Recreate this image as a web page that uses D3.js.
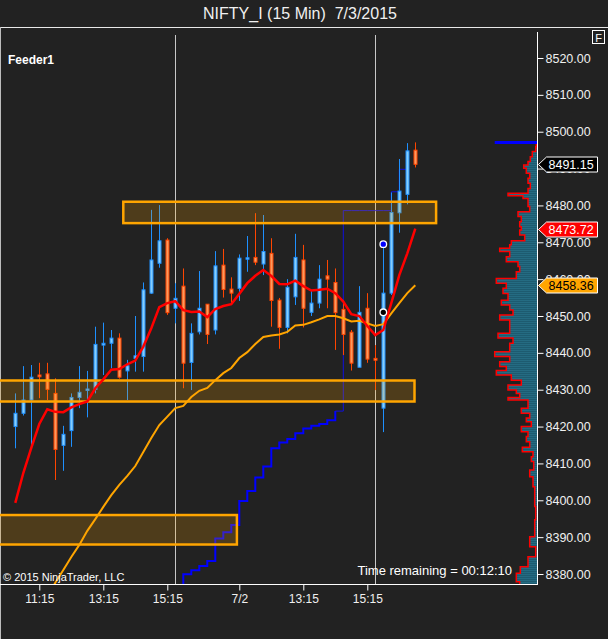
<!DOCTYPE html>
<html>
<head>
<meta charset="utf-8">
<script src="https://cdn.jsdelivr.net/npm/d3@7/dist/d3.min.js"></script>
<style>
  body { margin: 0; background: #222; }
  text { font-family: "Liberation Sans", Arial, sans-serif; }
</style>
</head>
<body>
<script>

  const width = 608, height = 639
  const plot = {left: 0, right: 537, top: 28, bottom: 584}
  const colors = {bg: '#222222',
                  upFill: '#87cefa', upLine: '#1e90ff',
                  downFill: '#fa9a5e', downLine: '#ff4500',
                  fast: '#ff0000', slow: '#ffa500',
                  stop: '#0000ff', zone: '#ffa500',
                  profile: '#1d5b70', grid: '#c8c8c8', text: '#f0f0f0'}

  // 15 min bars, 7/1 10:30 .. 7/3 10:30
  const barOpen  = [8420.0, 8423.6, 8427.2, 8434.0, 8434.3, 8429.0, 8414.9, 8418.9, 8427.9, 8429.8,
                    8430.1, 8442.1, 8442.6, 8444.0, 8435.1, 8438.5, 8439.0, 8456.2, 8464.3, 8470.6,
                    8452.1, 8458.1, 8437.4, 8445.7, 8453.2, 8446.2, 8463.8, 8457.3, 8457.5, 8465.4,
                    8465.9, 8464.1, 8467.0, 8454.3, 8446.9, 8455.2, 8465.2, 8451.0, 8453.5, 8460.9,
                    8459.1, 8451.8, 8445.6, 8436.1, 8452.1, 8438.5, 8425.0, 8456.2, 8478.0, 8483.0,
                    8495.0]
  const barHigh  = [8429.0, 8436.4, 8436.7, 8437.3, 8437.3, 8433.1, 8420.2, 8429.0, 8436.4, 8435.1,
                    8447.1, 8448.2, 8446.2, 8445.3, 8438.1, 8450.0, 8459.1, 8478.8, 8480.1, 8471.1,
                    8458.9, 8462.9, 8448.0, 8462.2, 8453.2, 8467.6, 8468.2, 8460.5, 8466.7, 8471.7,
                    8477.9, 8477.4, 8471.1, 8454.9, 8460.0, 8472.3, 8469.3, 8457.1, 8463.8, 8465.2,
                    8462.9, 8454.3, 8446.2, 8458.1, 8456.2, 8442.1, 8469.5, 8483.5, 8492.6, 8496.9,
                    8497.1]
  const barLow   = [8414.1, 8423.0, 8414.2, 8427.7, 8427.2, 8405.5, 8408.0, 8414.5, 8425.0, 8422.5,
                    8429.0, 8434.0, 8435.8, 8433.0, 8427.2, 8434.9, 8434.9, 8456.0, 8463.1, 8450.3,
                    8448.0, 8430.4, 8429.9, 8445.0, 8442.4, 8445.0, 8455.0, 8453.5, 8454.1, 8462.0,
                    8463.8, 8461.1, 8447.1, 8441.1, 8445.3, 8453.0, 8446.9, 8450.0, 8452.1, 8452.1,
                    8440.8, 8439.4, 8435.2, 8436.1, 8437.3, 8429.9, 8418.5, 8455.7, 8472.6, 8480.3,
                    8490.3]
  const barClose = [8423.6, 8427.2, 8433.4, 8433.5, 8430.1, 8413.8, 8417.9, 8427.9, 8429.3, 8430.2,
                    8442.3, 8442.6, 8444.0, 8433.4, 8436.5, 8439.2, 8457.1, 8465.2, 8470.4, 8450.9,
                    8454.8, 8437.2, 8445.3, 8452.1, 8445.0, 8463.6, 8457.2, 8456.2, 8465.7, 8465.8,
                    8464.6, 8467.5, 8454.2, 8446.9, 8457.8, 8465.9, 8452.1, 8453.5, 8460.0, 8460.0,
                    8450.9, 8445.0, 8437.2, 8451.0, 8438.3, 8438.0, 8456.2, 8478.1, 8483.9, 8494.8,
                    8491.15]

  // red (fast) and orange (slow) averages
  const fastMA = [8399.3, 8407.4, 8414.2, 8420.7, 8424.7, 8424.0, 8423.9, 8425.2, 8426.1, 8426.8,
                  8430.4, 8432.8, 8435.4, 8435.6, 8436.9, 8437.9, 8441.7, 8446.7, 8452.4, 8453.5,
                  8454.0, 8451.6, 8451.1, 8451.2, 8449.7, 8451.9, 8452.7, 8453.2, 8456.0, 8458.9,
                  8460.9, 8462.5, 8460.9, 8458.7, 8458.6, 8459.6, 8458.1, 8456.9, 8457.1, 8457.4,
                  8456.2, 8453.9, 8450.5, 8450.0, 8447.3, 8444.8, 8446.2, 8453.5, 8461.1, 8467.0,
                  8473.72]
  const slowMA = [null, null, null, null, 8374.0, 8377.6, 8381.1, 8384.6, 8387.9, 8391.7,
                  8394.9, 8398.2, 8401.4, 8404.2, 8406.6, 8409.3, 8413.1, 8416.9, 8420.4, 8422.7,
                  8425.0, 8425.6, 8428.0, 8429.7, 8430.5, 8432.6, 8434.5, 8435.9, 8438.6, 8440.2,
                  8442.4, 8444.3, 8444.7, 8445.0, 8445.7, 8447.4, 8447.6, 8448.3, 8449.1, 8450.0,
                  8450.0, 8449.4, 8448.5, 8448.7, 8448.0, 8447.3, 8447.8, 8450.7, 8453.5, 8456.2,
                  8458.36]
  // blue stepped stop level
  const stopLevel = [null, null, null, null, null, null, null, null, null, null,
                     null, null, null, null, null, null, null, null, null, null,
                     8375.1, 8379.9, 8381.0, 8382.2, 8383.5, 8389.6, 8391.3, 8393.3, 8399.8, 8402.5,
                     8406.2, 8409.2, 8414.1, 8415.7, 8416.6, 8418.2, 8419.5, 8420.2, 8420.7, 8421.7,
                     8424.2, 8478.6, 8478.6, 8478.6, 8478.6, 8478.6, 8478.6, 8483.7, 8489.8, 8489.8,
                     null]
  const stopFlipBar = 40

  const markerBar = [46, 46]
  const markerPrice = [8469.5, 8451.0]
  const markerFill = ['#0000ff', '#000000']

  const zoneFrom = [13.5, -3, -3]
  const zoneTo = [52.6, 49.9, 27.7]
  const zoneHigh = [8481.0, 8432.5, 8396.0]
  const zoneLow = [8475.2, 8426.8, 8388.0]

  const sessionEnds = [20, 45]
  const timeTickBars = [3, 11, 19, 28, 36, 44]
  const timeTickLabels = ['11:15', '13:15', '15:15', '7/2', '13:15', '15:15']
  const priceTicks = [8380, 8390, 8400, 8410, 8420, 8430, 8440, 8450, 8460, 8470, 8480, 8490, 8500, 8510, 8520]

  // volume profile (price level, relative volume)
  const profilePrice = [8497.1, 8495.9, 8494.6, 8493.2, 8491.9, 8491.0, 8490.1, 8488.7, 8487.4, 8486.0,
                        8484.6, 8483.3, 8482.6, 8481.9, 8480.6, 8479.7, 8478.3, 8477.0, 8475.6, 8474.2,
                        8473.3, 8472.0, 8470.4, 8469.3, 8468.4, 8467.5, 8466.1, 8464.7, 8463.4, 8462.0,
                        8460.2, 8458.9, 8457.5, 8456.1, 8454.3, 8453.0, 8451.6, 8450.3, 8448.9, 8447.5,
                        8445.3, 8444.0, 8442.6, 8440.3, 8439.0, 8437.6, 8436.3, 8435.2, 8434.0, 8432.6,
                        8431.3, 8429.9, 8429.0, 8427.9, 8427.2, 8425.9, 8425.0, 8423.6, 8422.3, 8421.3,
                        8420.0, 8418.6, 8417.3, 8415.9, 8414.4, 8413.2, 8411.8, 8410.5, 8408.2, 8406.4,
                        8403.7, 8401.0, 8398.3, 8394.7, 8390.1, 8387.4, 8384.7, 8382.0, 8380.2, 8377.9,
                        8376.0]
  const profileVol = [0.7, 1.3, 4.7, 6.7, 9, 13.3, 10.7, 7.3, 9, 6.7,
                      9, 29, 14, 9, 9, 7.3, 19, 15.7, 17.3, 15.7,
                      17.3, 12.3, 25.7, 27.3, 37.3, 27.3, 30.7, 19, 17.3, 20.7,
                      40.7, 30.7, 34, 29, 35.7, 27.3, 24, 37.3, 27.3, 27.3,
                      39, 24, 27.3, 42.3, 27.3, 37.3, 30.7, 40.7, 25.7, 15.7,
                      29, 20.7, 17.3, 29, 9, 9, 15.7, 7.3, 10.7, 5.7,
                      15.7, 9, 10.7, 7.3, 14.7, 4, 5.7, 3.3, 7.3, 4,
                      2.3, 2.3, 1.3, 2.3, 7.3, 1.3, 9, 16.7, 20.7, 17.3,
                      17.3]

  const lastPrice = barClose[barClose.length - 1]

  const x = d3.scaleLinear().domain([0, 50]).range([15.3, 415.3])
  const y = d3.scaleLinear().domain([8380, 8520]).range([574, 58])
  const vx = d3.scaleLinear().domain([0, d3.max(profileVol)]).range([0, 42.3])
  const snap = v => Math.round(v) + 0.5

  const svg = d3.select('body').append('svg')
      .attr('width', width)
      .attr('height', height)

  svg.append('rect').attr('width', width).attr('height', height).attr('fill', colors.bg)

  const defs = svg.append('defs')
  defs.append('clipPath').attr('id', 'plotClip')
    .append('rect')
      .attr('x', plot.left).attr('y', plot.top)
      .attr('width', plot.right - plot.left).attr('height', plot.bottom - plot.top)
  const pat = defs.append('pattern')
      .attr('id', 'stripes').attr('patternUnits', 'userSpaceOnUse')
      .attr('width', 4).attr('height', 2)
  pat.append('rect').attr('width', 4).attr('height', 2).attr('fill', colors.profile)
  pat.append('rect').attr('width', 4).attr('height', 1).attr('fill', '#246b82')

  // title
  svg.append('text')
      .attr('x', 300).attr('y', 19)
      .attr('text-anchor', 'middle')
      .style('font-size', '16px')
      .attr('fill', colors.text)
      .text('NIFTY_I (15 Min)\u00a0\u00a07/3/2015')
  svg.append('line').attr('x1', 0).attr('x2', width).attr('y1', 27.5).attr('y2', 27.5)
      .attr('stroke', '#e8e8e8')
  svg.append('line').attr('x1', 0.5).attr('x2', 0.5).attr('y1', 27).attr('y2', height)
      .attr('stroke', '#bdbdbd')

  const g = svg.append('g').attr('clip-path', 'url(#plotClip)')

  // volume profile
  const prof = profilePrice.map((p, i) => ({p, v: profileVol[i]}))
  const area = d3.area()
      .y(d => y(d.p))
      .x0(plot.right)
      .x1(d => plot.right - vx(d.v))
      .curve(d3.curveStepBefore)
  g.append('path').datum(prof).attr('d', area).attr('fill', 'url(#stripes)')
  g.append('path').datum(prof)
      .attr('d', d3.line().y(d => y(d.p)).x(d => plot.right - vx(d.v)).curve(d3.curveStepBefore))
      .attr('fill', 'none').attr('stroke', colors.fast).attr('stroke-width', 1.5)
  g.append('line')
      .attr('x1', plot.right - vx(d3.max(profileVol))).attr('x2', plot.right)
      .attr('y1', y(profilePrice[0])).attr('y2', y(profilePrice[0]))
      .attr('stroke', colors.stop).attr('stroke-width', 3)

  // session breaks
  g.selectAll('.session')
    .data(sessionEnds)
    .enter().append('line')
      .attr('class', 'session')
      .attr('x1', d => snap(x(d))).attr('x2', d => snap(x(d)))
      .attr('y1', 35).attr('y2', plot.bottom)
      .attr('stroke', colors.grid).attr('stroke-width', 1)

  // stop level: thick before the flip, thin after it
  const stopPts = stopLevel.map((v, i) => ({i, v}))
  const stopLine = d3.line().defined(d => d.v !== null).x(d => x(d.i)).y(d => y(d.v)).curve(d3.curveStepAfter)
  g.append('path').datum(stopPts.filter(d => d.i <= stopFlipBar))
      .attr('d', stopLine)
      .attr('fill', 'none').attr('stroke', colors.stop).attr('stroke-width', 2)
  g.append('path').datum(stopPts.filter(d => d.i >= stopFlipBar))
      .attr('d', stopLine)
      .attr('fill', 'none').attr('stroke', '#1010e0').attr('stroke-width', 1)

  // candles
  const bars = barOpen.map((o, i) => ({i, o, h: barHigh[i], l: barLow[i], c: barClose[i]}))
  const candle = g.selectAll('.candle')
    .data(bars)
    .enter().append('g')
      .attr('class', 'candle')
  candle.append('line')
      .attr('x1', d => snap(x(d.i))).attr('x2', d => snap(x(d.i)))
      .attr('y1', d => y(d.h)).attr('y2', d => y(d.l))
      .attr('stroke', d => d.c >= d.o ? colors.upLine : colors.downLine)
  candle.append('rect')
      .attr('x', d => snap(x(d.i)) - 1.5)
      .attr('width', 3)
      .attr('y', d => y(Math.max(d.o, d.c)))
      .attr('height', d => Math.max(1, y(Math.min(d.o, d.c)) - y(Math.max(d.o, d.c))))
      .attr('fill', d => d.c >= d.o ? colors.upFill : colors.downFill)
      .attr('stroke', d => d.c >= d.o ? colors.upLine : colors.downLine)
      .attr('stroke-width', 1)

  // zones
  g.selectAll('.zone')
    .data(zoneFrom.map((f, i) => ({f, t: zoneTo[i], hi: zoneHigh[i], lo: zoneLow[i]})))
    .enter().append('rect')
      .attr('class', 'zone')
      .attr('x', d => x(d.f)).attr('width', d => x(d.t) - x(d.f))
      .attr('y', d => y(d.hi)).attr('height', d => y(d.lo) - y(d.hi))
      .attr('fill', colors.zone).attr('fill-opacity', 0.2)
      .attr('stroke', colors.zone).attr('stroke-width', 2.5)

  // moving averages
  const maLine = d3.line().defined(d => d.v !== null).x(d => x(d.i)).y(d => y(d.v))
  g.append('path').datum(slowMA.map((v, i) => ({i, v})))
      .attr('d', maLine).attr('fill', 'none')
      .attr('stroke', colors.slow).attr('stroke-width', 2)
  g.append('path').datum(fastMA.map((v, i) => ({i, v})))
      .attr('d', maLine).attr('fill', 'none')
      .attr('stroke', colors.fast).attr('stroke-width', 2.5)

  g.selectAll('.marker')
    .data(markerBar.map((b, i) => ({b, p: markerPrice[i], f: markerFill[i]})))
    .enter().append('circle')
      .attr('class', 'marker')
      .attr('cx', d => x(d.b)).attr('cy', d => y(d.p)).attr('r', 3.3)
      .attr('fill', d => d.f).attr('stroke', '#ffffff').attr('stroke-width', 1.3)

  // texts in the panel
  svg.append('text').attr('x', 8).attr('y', 64)
      .style('font-size', '12px').style('font-weight', 'bold')
      .attr('fill', '#ffffff').text('Feeder1')
  svg.append('text').attr('x', 512).attr('y', 575)
      .attr('text-anchor', 'end')
      .style('font-size', '13px').attr('fill', '#ffffff')
      .text('Time remaining = 00:12:10')
  svg.append('text').attr('x', 3).attr('y', 581)
      .style('font-size', '11px').attr('fill', '#ffffff')
      .text('\u00a9 2015 NinjaTrader, LLC')

  // axes
  const yAxis = svg.append('g')
      .attr('transform', `translate(${plot.right + 0.5}, 0)`)
    .call(d3.axisRight(y).tickValues(priceTicks).tickFormat(d3.format('.2f')).tickSize(6).tickPadding(2))
  yAxis.select('.domain').remove()
  yAxis.selectAll('line').attr('stroke', '#ffffff')
  yAxis.selectAll('text').attr('fill', colors.text).style('font-size', '12.5px')
      .style('font-family', '"Liberation Sans", Arial, sans-serif')
  svg.append('line').attr('x1', plot.right + 0.5).attr('x2', plot.right + 0.5)
      .attr('y1', 32).attr('y2', plot.bottom + 0.5).attr('stroke', '#ffffff')

  const xAxis = svg.append('g')
      .attr('transform', `translate(0, ${plot.bottom + 0.5})`)
    .call(d3.axisBottom(x).tickValues(timeTickBars).tickFormat((d, i) => timeTickLabels[i]).tickSize(6).tickPadding(4))
  xAxis.select('.domain').remove()
  xAxis.selectAll('line').attr('stroke', '#ffffff')
  xAxis.selectAll('text').attr('fill', colors.text).style('font-size', '12px')
      .style('font-family', '"Liberation Sans", Arial, sans-serif')
  svg.append('line').attr('x1', 0).attr('x2', plot.right + 1)
      .attr('y1', plot.bottom + 0.5).attr('y2', plot.bottom + 0.5).attr('stroke', '#ffffff')

  // price markers on the axis (they sit over the nearest tick labels, as in NinjaTrader)
  const tags = [
    {v: lastPrice, fill: '#000000', stroke: '#ffffff', text: '#ffffff'},
    {v: fastMA[fastMA.length - 1], fill: '#ff0000', stroke: '#ffffff', text: '#ffffff'},
    {v: slowMA[slowMA.length - 1], fill: '#ffa500', stroke: '#ffffff', text: '#000000'}
  ]
  const tag = svg.selectAll('.tag')
    .data(tags)
    .enter().append('g')
      .attr('class', 'tag')
      .attr('transform', d => `translate(${plot.right + 1.5}, ${Math.round(y(d.v)) + 0.5})`)
  tag.append('path')
      .attr('d', 'M0,0 L8,-7.5 L59,-7.5 L59,7.5 L8,7.5 Z')
      .attr('fill', d => d.fill).attr('stroke', d => d.stroke).attr('stroke-width', 1)
  tag.append('text')
      .attr('x', 10).attr('y', 4.5)
      .style('font-size', '12.5px')
      .attr('fill', d => d.text)
      .text(d => d3.format('.2f')(d.v))

  // F button
  svg.append('rect').attr('x', 592.5).attr('y', 30.5).attr('width', 12).attr('height', 13)
      .attr('fill', 'none').attr('stroke', '#ffffff')
  svg.append('text').attr('x', 598.5).attr('y', 41.5).attr('text-anchor', 'middle')
      .style('font-size', '11px').attr('fill', '#ffffff').text('F')

</script>
</body>
</html>
